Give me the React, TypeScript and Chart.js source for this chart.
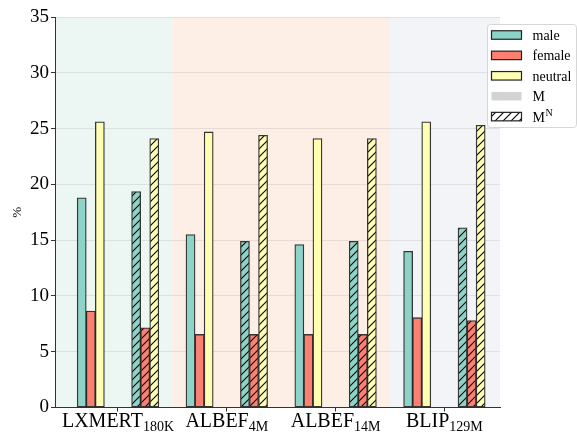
import React, { useEffect, useRef } from "react";
import { Chart, registerables } from "chart.js";

Chart.register(...registerables);

// ---- data ----
const models = ["LXMERT", "ALBEF", "ALBEF", "BLIP"];
const modelSubs = ["180K", "4M", "14M", "129M"];
const maleM = [18.8, 15.5, 14.6, 14.0];
const femaleM = [8.65, 6.55, 6.55, 8.05];
const neutralM = [25.6, 24.7, 24.1, 25.6];
const maleMN = [19.35, 14.9, 14.9, 16.1];
const femaleMN = [7.15, 6.55, 6.55, 7.8];
const neutralMN = [24.1, 24.4, 24.1, 25.3];
const yTicks = [0, 5, 10, 15, 20, 25, 30, 35];

// ---- layout / style constants ----
const W = 577;
const H = 432;
const X_MIN = -0.579;
const X_MAX = 3.511;
const BAR_W = 1 / 12;
const GROUP_OFF = 0.25;
const FONT = "'Liberation Serif', 'Times New Roman', serif";
const C_MALE = "#8dd3c7";
const C_FEMALE = "#fb8072";
const C_NEUTRAL = "#ffffb3";
const SPANS: [number, number, string][] = [
  [-1, 0.5, "#ecf6f3"],
  [0.5, 2.5, "#fdeee6"],
  [2.5, 4, "#f3f4f8"],
];

function hatch(color: string | null): CanvasPattern | string {
  const s = 8;
  const c = document.createElement("canvas");
  c.width = s;
  c.height = s;
  const g = c.getContext("2d")!;
  if (color) {
    g.fillStyle = color;
    g.fillRect(0, 0, s, s);
  }
  g.strokeStyle = "#000";
  g.lineWidth = 1.1;
  g.beginPath();
  g.moveTo(-1, s + 1);
  g.lineTo(s + 1, -1);
  g.moveTo(-1, 1);
  g.lineTo(1, -1);
  g.moveTo(s - 1, s + 1);
  g.lineTo(s + 1, s - 1);
  g.stroke();
  const p = g.createPattern(c, "repeat");
  return p || (color ?? "#fff");
}

function pts(vals: number[], group: number, bar: number) {
  return vals.map((v, i) => ({ x: i + group * GROUP_OFF + bar * BAR_W, y: v }));
}

const bgPlugin = {
  id: "bgSpans",
  beforeDraw(chart: any) {
    const { ctx, chartArea: a, scales } = chart;
    const x = scales.x;
    ctx.save();
    ctx.fillStyle = "#ffffff";
    ctx.fillRect(0, 0, chart.width, chart.height);
    SPANS.forEach(([from, to, col]) => {
      const x0 = Math.max(a.left, x.getPixelForValue(from));
      const x1 = Math.min(a.right, x.getPixelForValue(to));
      ctx.fillStyle = col;
      ctx.fillRect(x0, a.top, x1 - x0, a.bottom - a.top);
    });
    ctx.restore();
  },
};

const decorPlugin = {
  id: "decor",
  afterDraw(chart: any) {
    const { ctx, chartArea: a, scales } = chart;
    const x = scales.x;
    ctx.save();
    // x labels with subscripts
    ctx.fillStyle = "#000";
    ctx.textAlign = "left";
    ctx.textBaseline = "alphabetic";
    models.forEach((m, i) => {
      ctx.font = `20px ${FONT}`;
      const w1 = ctx.measureText(m).width;
      ctx.font = `14px ${FONT}`;
      const w2 = ctx.measureText(modelSubs[i]).width;
      const cx = x.getPixelForValue(i);
      const sx = cx - (w1 + w2) / 2;
      ctx.font = `20px ${FONT}`;
      ctx.fillText(m, sx, a.bottom + 19.5);
      ctx.font = `14px ${FONT}`;
      ctx.fillText(modelSubs[i], sx + w1, a.bottom + 23);
    });
    // y title
    ctx.save();
    ctx.translate(18, (a.top + a.bottom) / 2);
    ctx.rotate(-Math.PI / 2);
    ctx.textAlign = "center";
    ctx.textBaseline = "middle";
    ctx.font = `13px ${FONT}`;
    ctx.fillText("%", 0, 0);
    ctx.restore();

    // legend
    const lx = a.right - 13;
    const ly = 24;
    const lw = W - 1 - lx;
    const lh = 103;
    ctx.beginPath();
    (ctx as any).roundRect(lx + 0.5, ly + 0.5, lw, lh, 3);
    ctx.fillStyle = "rgba(255,255,255,0.85)";
    ctx.fill();
    ctx.strokeStyle = "#d6d6d6";
    ctx.lineWidth = 1;
    ctx.stroke();

    const entries: { label: string; sup?: string; fill: any; border: boolean }[] = [
      { label: "male", fill: C_MALE, border: true },
      { label: "female", fill: C_FEMALE, border: true },
      { label: "neutral", fill: C_NEUTRAL, border: true },
      { label: "M", fill: "#d3d3d3", border: false },
      { label: "M", sup: "N", fill: hatch("#ffffff"), border: true },
    ];
    entries.forEach((e, i) => {
      const cy = ly + 11 + i * 20.4;
      const px = lx + 4.5;
      const pw = 30;
      const ph = 8.5;
      ctx.fillStyle = e.fill;
      ctx.fillRect(px, cy - ph / 2, pw, ph);
      if (e.border) {
        ctx.strokeStyle = "#222";
        ctx.lineWidth = 1.2;
        ctx.strokeRect(px, cy - ph / 2, pw, ph);
      }
      ctx.fillStyle = "#000";
      ctx.font = `14px ${FONT}`;
      ctx.textBaseline = "alphabetic";
      ctx.textAlign = "left";
      const tx = lx + 45.5;
      ctx.fillText(e.label, tx, cy + 5);
      if (e.sup) {
        const w = ctx.measureText(e.label).width;
        ctx.font = `10px ${FONT}`;
        ctx.fillText(e.sup, tx + w + 0.5, cy - 0.5);
      }
    });
    ctx.restore();
  },
};

export default function App() {
  const ref = useRef<HTMLCanvasElement | null>(null);
  useEffect(() => {
    if (!ref.current) return;
    const common = {
      grouped: false,
      barPercentage: 1,
      categoryPercentage: 1,
      borderColor: "rgba(20,20,20,0.85)",
      borderWidth: 1.3,
      borderSkipped: false,
    };
    const chart = new Chart(ref.current, {
      type: "bar",
      data: {
        datasets: [
          { label: "male M", data: pts(maleM, -1, -1), backgroundColor: C_MALE, ...common },
          { label: "female M", data: pts(femaleM, -1, 0), backgroundColor: C_FEMALE, ...common },
          { label: "neutral M", data: pts(neutralM, -1, 1), backgroundColor: C_NEUTRAL, ...common },
          { label: "male MN", data: pts(maleMN, 1, -1), backgroundColor: hatch(C_MALE), ...common },
          { label: "female MN", data: pts(femaleMN, 1, 0), backgroundColor: hatch(C_FEMALE), ...common },
          { label: "neutral MN", data: pts(neutralMN, 1, 1), backgroundColor: hatch(C_NEUTRAL), ...common },
        ] as any,
      },
      options: {
        responsive: false,
        animation: false,
        devicePixelRatio: 1,
        layout: { padding: { top: 17, right: W - 500, left: 0, bottom: 0 } },
        plugins: { legend: { display: false }, tooltip: { enabled: false } },
        scales: {
          x: {
            type: "linear",
            min: X_MIN,
            max: X_MAX,
            offset: false,
            afterFit: (s: any) => {
              s.height = 24.5;
            },
            afterBuildTicks: (s: any) => {
              s.ticks = models.map((_, i) => ({ value: i }));
            },
            ticks: { display: false },
            grid: { offset: false, drawOnChartArea: false, drawTicks: true, tickLength: 4, tickColor: "#333", color: "#333" },
            border: { color: "#333", width: 1 },
          },
          y: {
            type: "linear",
            min: 0,
            max: 35,
            afterFit: (s: any) => {
              s.width = 55;
            },
            afterBuildTicks: (s: any) => {
              s.ticks = yTicks.map((v) => ({ value: v }));
            },
            ticks: { font: { family: FONT, size: 19 }, color: "#000", padding: 2 },
            grid: { color: "rgba(0,0,0,0.08)", tickColor: "#333", tickLength: 4, lineWidth: 1 },
            border: { color: "#333", width: 1 },
          },
        },
      } as any,
      plugins: [bgPlugin, decorPlugin],
    });
    return () => chart.destroy();
  }, []);
  return (
    <div style={{ position: "absolute", left: 0, top: 0, width: W, height: H }}>
      <canvas ref={ref} width={W} height={H} style={{ display: "block" }} />
    </div>
  );
}
